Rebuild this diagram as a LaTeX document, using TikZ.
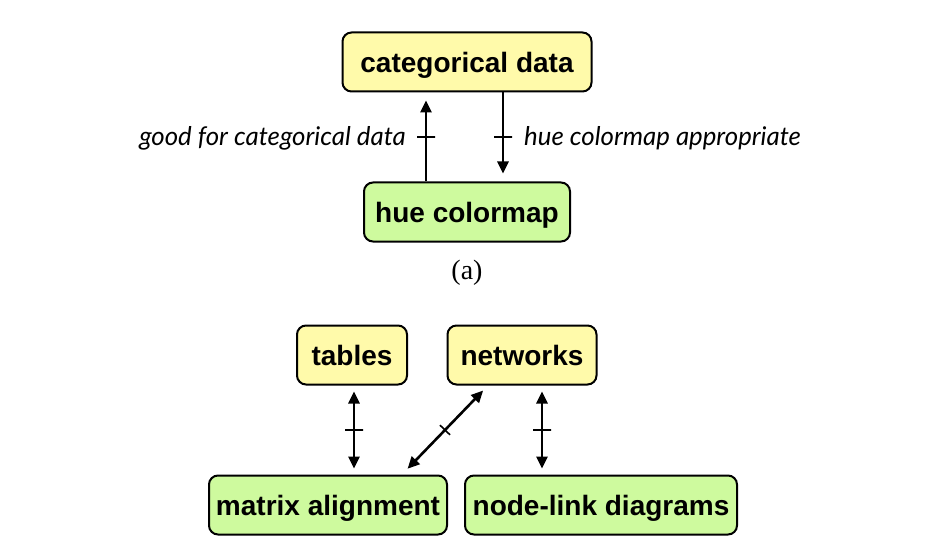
\documentclass[tikz,border=0pt]{standalone}
\usepackage{fontspec}
\setmainfont{Liberation Sans}
\newfontfamily\boxfont{Liberation Sans}
\newfontfamily\labfont{Lato}
\newfontfamily\capfont{Liberation Serif}
\usetikzlibrary{arrows.meta,calc}
\definecolor{ylw}{RGB}{255,250,170}
\definecolor{grn}{RGB}{206,250,158}
\tikzset{
  box/.style={draw=black, line width=2pt, rounded corners=9pt, minimum height=59pt, inner xsep=2pt,
    font=\boxfont\bfseries\fontsize{28}{30}\selectfont, text=black, anchor=center,
    text height=20.2pt, text depth=0pt},
  ybox/.style={box, fill=ylw},
  gbox/.style={box, fill=grn},
  conn/.style={line width=2.6pt, -{Triangle[length=12pt,width=11pt]}},
  bconn/.style={line width=2.6pt, {Triangle[length=12pt,width=11pt]}-{Triangle[length=12pt,width=11pt]}},
  tick/.style={draw, line width=1.6pt, minimum width=0pt, minimum height=18pt, inner sep=0pt, sloped, allow upside down},
  lab/.style={font=\labfont\itshape\fontsize{25.8}{28}\selectfont, inner sep=0pt}
}
\begin{document}
\begin{tikzpicture}[x=1pt,y=-1pt]
\useasboundingbox (0,0) rectangle (926,548);
% (a)
\node[ybox, minimum width=249pt] (cat) at (467,62) {categorical data};
\node[gbox, minimum width=206pt] (hue) at (467,212) {hue colormap};
\draw[conn, shorten >=8pt] ([xshift=-41pt]hue.north) -- ([xshift=-41pt]cat.south) node[tick, pos=0.5] (t1) {};
\draw[conn, shorten >=8pt] ([xshift=36pt]cat.south) -- ([xshift=36pt]hue.north) node[tick, pos=0.5] (t2) {};
\node[lab, anchor=east] (l1) at (406,138) {good for categorical data};
\node[lab, anchor=west] (l2) at (524,138) {hue colormap appropriate};
\node[font=\capfont\fontsize{28}{30}\selectfont] (cap) at (467,273) {(a)};
% (b)
\node[ybox, minimum width=110pt] (tab) at (352,355) {tables};
\node[ybox, minimum width=149pt] (net) at (522,355) {networks};
\node[gbox, minimum width=238pt] (mat) at (328,505) {matrix alignment};
\node[gbox, minimum width=272pt] (nld) at (601,505) {node-link diagrams};
\draw[bconn, shorten <=6pt, shorten >=6pt] ([xshift=2pt]tab.south) -- ([xshift=2pt]tab.south |- mat.north) node[tick, pos=0.5] (t3) {};
\draw[bconn, shorten <=6pt, shorten >=6pt] ([xshift=20pt]net.south) -- ([xshift=20pt]net.south |- nld.north) node[tick, pos=0.5] (t4) {};
\draw[bconn, shorten <=7pt, shorten >=8pt] ([xshift=-34pt]net.south) -- ([xshift=74pt]mat.north) node[tick, pos=0.5, minimum height=14pt] (t5) {};
\end{tikzpicture}
\end{document}
